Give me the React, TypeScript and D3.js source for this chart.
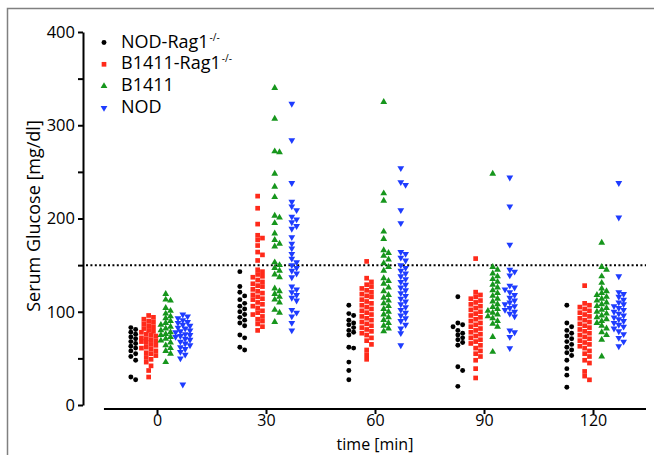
import React, { useEffect, useRef } from "react";
import * as d3 from "d3";

// time points (min) and y ticks
const times = [0, 30, 60, 90, 120];
const yLabelTicks = [0, 100, 200, 300, 400];
const threshold = 150;

// serum glucose [mg/dl], one array per time point
const nodRag1 = [
  [83, 81, 78, 76, 73, 71, 68, 66, 63, 61, 58, 55, 52, 48, 30, 27],
  [143, 127, 121, 117, 113, 109, 106, 103, 100, 97, 94, 91, 88, 85, 75, 72, 62, 59],
  [107, 98, 96, 91, 88, 86, 83, 80, 78, 75, 62, 61, 46, 37, 27],
  [116, 88, 86, 84, 80, 77, 75, 72, 70, 67, 64, 41, 37, 20],
  [107, 88, 84, 80, 77, 74, 71, 68, 65, 62, 59, 56, 53, 48, 39, 32, 19],
];
const b1411Rag1 = [
  [96, 94, 92, 90, 89, 87, 85, 84, 82, 80, 79, 78, 76, 75, 74, 72, 71, 70, 69, 68, 67, 65, 64, 62, 61, 60, 58, 56, 55, 53, 51, 49, 46, 42, 37, 30],
  [224, 211, 194, 182, 179, 177, 171, 164, 161, 155, 145, 143, 140, 138, 137, 134, 132, 130, 128, 127, 124, 122, 120, 118, 116, 114, 113, 110, 108, 106, 104, 101, 99, 97, 95, 92, 90, 87, 84, 80],
  [154, 136, 132, 129, 127, 125, 123, 121, 119, 117, 116, 113, 111, 109, 107, 105, 103, 101, 99, 97, 95, 93, 91, 89, 87, 85, 83, 81, 79, 77, 75, 72, 69, 65, 59, 54, 49],
  [157, 121, 118, 116, 114, 112, 110, 108, 106, 104, 102, 100, 98, 96, 94, 92, 90, 88, 86, 84, 82, 80, 78, 76, 74, 72, 70, 68, 66, 64, 61, 58, 55, 52, 48, 39, 29],
  [128, 109, 107, 105, 103, 101, 99, 97, 95, 93, 91, 89, 87, 85, 83, 81, 79, 77, 75, 73, 71, 69, 67, 65, 63, 61, 58, 55, 52, 48, 45, 36, 31, 27],
];
const b1411 = [
  [119, 113, 112, 104, 101, 98, 95, 93, 90, 88, 86, 84, 82, 80, 78, 76, 75, 73, 71, 69, 67, 64, 61, 58, 55, 46],
  [340, 307, 272, 271, 248, 234, 223, 203, 201, 195, 184, 177, 173, 170, 153, 150, 147, 144, 140, 137, 125, 122, 119, 116, 113, 110, 102, 99, 89],
  [325, 227, 219, 186, 178, 166, 163, 160, 156, 152, 148, 144, 136, 133, 130, 126, 122, 118, 115, 112, 109, 106, 103, 100, 97, 94, 91, 88, 85, 82, 79],
  [248, 148, 145, 141, 138, 135, 132, 129, 126, 123, 120, 117, 114, 111, 108, 105, 103, 101, 99, 97, 95, 93, 90, 87, 84, 73, 57],
  [174, 148, 145, 138, 131, 125, 122, 120, 118, 116, 114, 112, 110, 108, 106, 104, 102, 100, 98, 96, 94, 92, 90, 88, 85, 82, 78, 75, 70, 52],
];
const nod = [
  [97, 95, 93, 91, 89, 88, 86, 85, 83, 82, 80, 79, 78, 76, 75, 74, 73, 71, 70, 68, 66, 64, 62, 60, 57, 54, 50, 22],
  [323, 284, 238, 218, 213, 209, 202, 199, 196, 192, 189, 180, 173, 168, 162, 157, 153, 150, 147, 144, 141, 137, 127, 124, 121, 118, 115, 112, 102, 99, 95, 88, 80],
  [254, 239, 236, 209, 195, 164, 162, 158, 155, 150, 147, 144, 141, 138, 135, 132, 129, 126, 123, 120, 117, 114, 111, 108, 105, 102, 99, 96, 93, 90, 86, 82, 77, 64],
  [244, 213, 172, 145, 143, 139, 128, 126, 124, 121, 118, 115, 112, 110, 108, 106, 104, 102, 100, 98, 95, 80, 78, 73, 61],
  [238, 201, 138, 121, 119, 116, 113, 110, 108, 106, 104, 102, 100, 98, 96, 94, 92, 90, 88, 86, 84, 82, 79, 76, 72, 68, 63],
];

const series = [
  { name: "NOD-Rag1", sup: "-/-", values: nodRag1, color: "#000000", shape: "circle", offset: -7.2 },
  { name: "B1411-Rag1", sup: "-/-", values: b1411Rag1, color: "#ff2a1a", shape: "square", offset: -2.3 },
  { name: "B1411", sup: "", values: b1411, color: "#16961c", shape: "up", offset: 2.4 },
  { name: "NOD", sup: "", values: nod, color: "#1e3cff", shape: "down", offset: 7.1 },
];

const font = "'Open Sans', sans-serif";

const symbolPath = (shape: string) => {
  if (shape === "circle") return d3.symbol(d3.symbolCircle, 19)();
  if (shape === "square") return d3.symbol(d3.symbolSquare, 22)();
  return d3.symbol(d3.symbolTriangle, 20)();
};

const App = () => {
  const svgRef = useRef<SVGSVGElement>(null);

  useEffect(() => {
    const svg = d3.select(svgRef.current);
    svg.selectAll("*").remove();

    const x = d3.scaleLinear().domain([0, 120]).range([157, 593]);
    const y = d3.scaleLinear().domain([0, 400]).range([405, 32]);

    // frame
    svg.append("path")
      .attr("d", "M7.5,455V8.5H654")
      .attr("fill", "none")
      .attr("stroke", "#808080")
      .attr("stroke-width", 1.5);

    // threshold line
    svg.append("line")
      .attr("x1", 86).attr("x2", 646)
      .attr("y1", y(threshold)).attr("y2", y(threshold))
      .attr("stroke", "#000")
      .attr("stroke-width", 2)
      .attr("stroke-dasharray", "2,2.4");

    // y axis
    const yAxis = svg.append("g")
      .attr("transform", "translate(83,0)")
      .call(d3.axisLeft(y)
        .tickValues(d3.range(0, 401, 50))
        .tickSize(5)
        .tickSizeOuter(0)
        .tickFormat(d => (yLabelTicks.includes(+d) ? String(d) : "")));
    yAxis.selectAll("path, line").attr("stroke", "#000").attr("stroke-width", 2);
    yAxis.selectAll("text").attr("font-family", font).attr("font-size", 16.5).attr("fill", "#000");

    // x axis
    const xAxis = svg.append("g")
      .attr("transform", "translate(0,409)")
      .call(d3.axisBottom(x).tickValues(times).tickSize(5).tickSizeOuter(0).tickPadding(1));
    xAxis.select(".domain").attr("d", `M${x(-14.6)},0H646`);
    xAxis.selectAll("path, line").attr("stroke", "#000").attr("stroke-width", 2);
    xAxis.selectAll("text").attr("font-family", font).attr("font-size", 16).attr("fill", "#000");

    svg.append("text")
      .attr("x", 375).attr("y", 450)
      .attr("text-anchor", "middle")
      .attr("font-family", font).attr("font-size", 16)
      .text("time [min]");

    svg.append("text")
      .attr("transform", "translate(40,216) rotate(-90)")
      .attr("text-anchor", "middle")
      .attr("font-family", font).attr("font-size", 18)
      .text("Serum Glucose [mg/dl]");

    // simple swarm so overlapping points spread sideways
    const step = 2.4;
    const minDist = 4.5;
    series.forEach(s => {
      const path = symbolPath(s.shape);
      times.forEach((t, ti) => {
        const cx = x(t + s.offset);
        const placed: { x: number; y: number }[] = [];
        const vals = [...s.values[ti]].sort((a, b) => b - a);
        vals.forEach(v => {
          const py = y(v);
          let bestX = cx;
          let bestScore = -1;
          for (let k = 0; k < 7; k++) {
            const off = k === 0 ? 0 : (k % 2 ? 1 : -1) * Math.ceil(k / 2) * step;
            const px = cx + off;
            const dmin = d3.min(placed, q => Math.hypot(q.x - px, q.y - py)) ?? Infinity;
            if (dmin >= minDist) { bestX = px; bestScore = Infinity; break; }
            if (dmin > bestScore) { bestScore = dmin; bestX = px; }
          }
          placed.push({ x: bestX, y: py });
        });
        svg.append("g")
          .selectAll("path")
          .data(placed)
          .join("path")
          .attr("d", path)
          .attr("transform", d => `translate(${d.x},${d.y})${s.shape === "down" ? " rotate(180)" : ""}`)
          .attr("fill", s.color);
      });
    });

    // legend
    series.forEach((s, i) => {
      const g = svg.append("g").attr("transform", `translate(0,${i * 21.8})`);
      g.append("path")
        .attr("d", symbolPath(s.shape))
        .attr("transform", `translate(104,42.5)${s.shape === "down" ? " rotate(180)" : ""}`)
        .attr("fill", s.color);
      const txt = g.append("text")
        .attr("x", 121).attr("y", 47.5)
        .attr("font-family", font).attr("font-size", 18)
        .text(s.name);
      if (s.sup) {
        txt.append("tspan")
          .attr("dy", -7).attr("dx", 1)
          .attr("font-size", 10)
          .text(s.sup);
      }
    });
  }, []);

  return (
    <svg ref={svgRef} width={654} height={455}
      style={{ position: "absolute", left: 0, top: 0, background: "#fff" }} />
  );
};

export default App;
